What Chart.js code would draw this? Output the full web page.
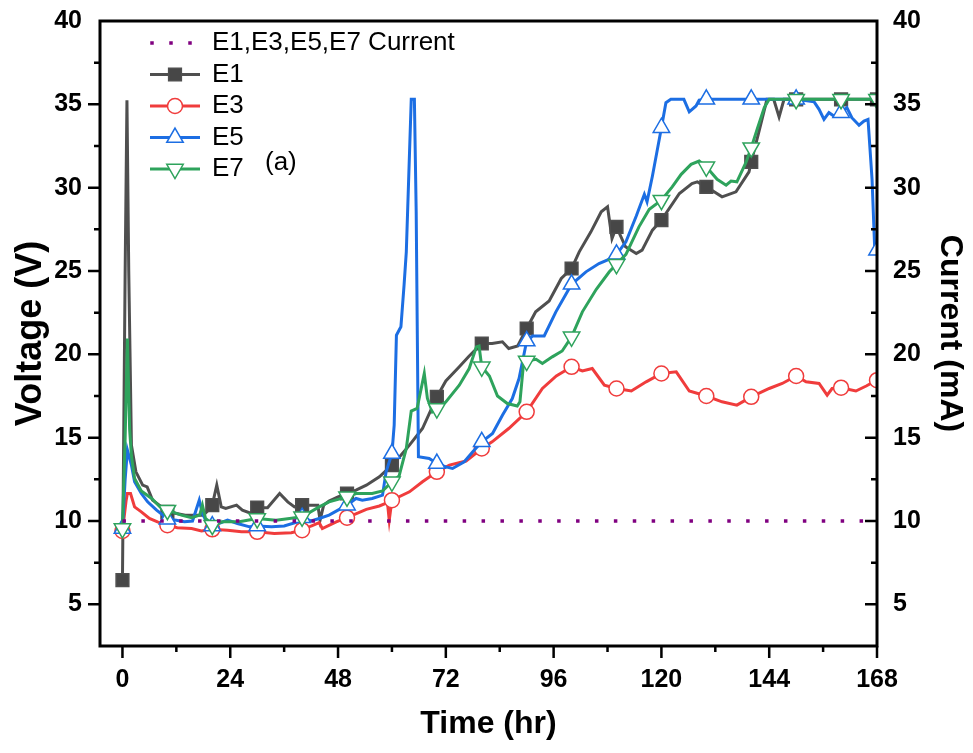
<!DOCTYPE html>
<html>
<head>
<meta charset="utf-8">
<title>Voltage / Current vs Time</title>
<script src="https://cdn.jsdelivr.net/npm/chart.js@4.4.0/dist/chart.umd.min.js"></script>
<style>
  html, body { margin: 0; padding: 0; background: #fff; overflow: hidden; }
</style>
</head>
<body>
<canvas id="voltChart" width="973" height="753"></canvas>
<script>
// tick labels
const timeTicks = [0, 24, 48, 72, 96, 120, 144, 168];
const voltTicks = [5, 10, 15, 20, 25, 30, 35, 40];
const currentTicks = [5, 10, 15, 20, 25, 30, 35, 40];

// E1 voltage (V) vs time (hr)
const e1Time = [0, 0.6, 1.0, 1.4, 2, 3, 4.5, 5.5, 6.7, 8.2, 10, 12, 14, 16, 18, 19.5, 20, 21, 22, 23,
  25.4, 26.7, 28.7, 30, 32.3, 35, 36.8, 38.3, 40, 42, 43.5, 44, 44.8, 46, 48, 50, 52, 54.3, 57.2, 60,
  62, 63.9, 66.8, 70, 72, 75, 77.2, 80, 82.3, 84.6, 86, 88, 90, 92, 95, 97.7, 100, 101.7, 104.3, 106.6,
  108, 109, 110, 112, 114.4, 115.7, 118, 120, 124, 126.8, 128, 130, 133.5, 136.6, 139.5, 140, 141.7, 143.5, 145, 146.2,
  147.3, 150, 160, 168];
const e1Volt = [6.45, 25, 35.25, 25, 14.55, 12.95, 12.15, 12.05, 11.25, 10.95, 10.55, 10.45, 10.35, 10.35, 10.35, 10.75, 10.95, 12.15, 10.85, 10.75,
  10.95, 10.65, 10.45, 10.8, 10.8, 11.65, 11.15, 10.85, 10.95, 10.95, 10.95, 10.05, 10.95, 11.2, 11.45, 11.65, 11.85, 12.15, 12.65, 13.35,
  13.95, 14.55, 15.55, 17.45, 18.4, 19.25, 19.9, 20.65, 20.65, 20.75, 20.35, 20.5, 21.55, 22.55, 23.2, 24.55, 25.15, 26.15, 27.35, 28.55,
  28.85, 26.95, 27.65, 26.45, 26.05, 26.25, 27.45, 28.05, 29.65, 30.25, 30.35, 30.05, 29.45, 29.75, 30.95, 31.55, 33.35, 35.3, 35.3, 34.25,
  35.3, 35.3, 35.3, 35.3];

// E3
const e3Time = [0, 0.8, 1.1, 1.8, 2.7, 4.2, 6, 7.8, 10, 12.2, 15.4, 17.6, 20, 23.4, 26.5, 30, 33.8, 37.6, 40, 42,
  43.8, 44.5, 47.6, 50, 54.3, 57.2, 59, 59.4, 60, 63.9, 66.8, 70, 72.8, 76.5, 80, 82.3, 86, 90, 93.5, 96.6,
  100, 102.4, 104.6, 107.3, 110, 113.3, 116.6, 120, 123.3, 126.2, 130, 133.5, 136.8, 140, 144, 146.9, 150, 152.2, 155.1, 156.9,
  158, 160, 163.3, 165.6, 168];
const e3Volt = [9.4, 11.2, 11.65, 11.65, 10.85, 10.55, 10.15, 9.95, 9.75, 9.6, 9.55, 9.4, 9.5, 9.45, 9.35, 9.35, 9.25, 9.3, 9.45, 9.7,
  9.9, 9.55, 9.95, 10.2, 10.7, 10.9, 11.1, 10.05, 11.25, 11.75, 12.35, 12.95, 13.35, 13.6, 14.35, 14.75, 15.55, 16.55, 17.95, 18.7,
  19.25, 19.0, 19.15, 18.15, 17.95, 17.8, 18.35, 18.85, 18.95, 17.8, 17.5, 17.15, 16.95, 17.45, 17.95, 18.25, 18.7, 18.35, 18.25, 17.55,
  17.95, 18.0, 17.8, 18.1, 18.45];

// E5
const e5Time = [0, 0.6, 1.1, 2, 2.7, 4.2, 5.6, 7.6, 9, 10, 12, 13.8, 15.6, 17.1, 17.8, 18.9, 20, 23.4, 25.6, 28.3,
  30, 33.2, 36, 39, 40, 42, 43.8, 46, 50, 52, 53.4, 55.6, 57.9, 58.7, 60, 60.5, 61, 62, 62.7, 63.2,
  64.3, 65, 65.4, 65.9, 68.3, 70, 72, 73.5, 76.1, 78, 80, 82.4, 84.6, 86.8, 88.3, 90, 91.3, 93.9, 96.5, 100,
  103.2, 106.1, 108.8, 110, 112.1, 114.4, 116.2, 116.8, 118, 120, 121, 122.1, 125, 126.2, 127.7, 128.4, 130, 140, 150, 154,
  155.1, 156.2, 157.3, 158.4, 160, 161.3, 162.4, 164, 165.1, 166, 166.9, 167.5, 168];
const e5Volt = [9.55, 12.5, 14.25, 13.35, 12.35, 11.65, 11.15, 10.65, 10.35, 10.1, 10.05, 9.95, 10.0, 11.25, 10.45, 9.85, 9.7, 10.05, 9.85, 9.65,
  9.7, 9.65, 9.7, 9.95, 10.2, 10.0, 10.15, 10.35, 10.95, 11.35, 11.25, 11.35, 11.55, 12.95, 14.05, 15.75, 21.15, 21.65, 24.15, 26.15,
  35.3, 35.3, 28.55, 13.85, 13.75, 13.45, 13.25, 13.15, 13.55, 14.15, 14.75, 15.25, 16.35, 17.35, 18.55, 20.8, 21.1, 21.1, 22.55, 24.2,
  24.95, 25.45, 25.75, 26.0, 26.75, 28.3, 29.6, 29.15, 30.7, 33.6, 35.1, 35.3, 35.3, 34.55, 34.9, 35.25, 35.3, 35.3, 35.3, 35.15,
  34.7, 34.1, 34.5, 34.3, 34.5, 34.8, 34.2, 33.75, 34.0, 34.1, 30.5, 26.25, 26.25];

// E7
const e7Time = [0, 0.6, 1.1, 1.6, 2, 2.7, 4.2, 6.5, 8.7, 10, 13.1, 15.4, 17.2, 17.8, 18.5, 19.4, 20, 22.3, 26, 30,
  34.2, 37.2, 40, 43.8, 46, 50, 52, 55.6, 57.9, 60, 61.6, 63.2, 64.3, 65.6, 67.2, 67.9, 69, 70, 72, 75,
  77.2, 78.8, 79.4, 80, 81.7, 83.5, 85.7, 87.9, 88.5, 89.3, 90, 92.1, 93.5, 95.7, 97.9, 100, 102.4, 105.5, 108.4, 110,
  112.1, 115, 117.3, 120, 122.4, 124.4, 126.6, 128.4, 130, 132.4, 134.4, 135.5, 136.8, 138.8, 140, 141.3, 142.9, 144, 150, 160,
  168];
const e7Volt = [9.55, 15, 20.95, 15.5, 13.9, 12.55, 11.8, 11.35, 10.75, 10.65, 10.35, 10.2, 10.35, 10.95, 10.15, 9.95, 9.75, 9.95, 9.95, 10.15,
  10.05, 10.15, 10.25, 10.85, 11.15, 11.45, 11.65, 11.65, 11.8, 12.35, 12.7, 14.35, 16.6, 16.75, 18.85, 17.35, 16.55, 16.75, 17.15, 18.15,
  19.15, 20.45, 20.5, 19.25, 18.7, 17.5, 17.05, 16.9, 17.15, 19.45, 19.6, 19.7, 19.45, 19.85, 20.2, 21.05, 22.55, 23.9, 24.95, 25.4,
  26.0, 27.65, 28.7, 29.25, 30.05, 30.8, 31.4, 31.6, 31.25, 30.5, 30.15, 30.4, 30.35, 31.5, 32.4, 33.5, 34.8, 35.3, 35.3, 35.3,
  35.3];

// applied current (mA), same for all electrodes
const currentTime = [0, 168];
const currentVal = [10, 10];

const FONT = '"Liberation Sans", Arial, sans-serif';
const PURPLE = '#800080';

function toPoints(xs, ys) {
  return xs.map((x, i) => ({ x: x, y: ys[i] }));
}

// symbols only every 10 hr and on the last point
function markerRadius(r) {
  return function(ctx) {
    const p = ctx.raw;
    if (!p) return 0;
    return (p.x % 10 === 0 || p.x === 168) ? r : 0;
  };
}

const series = [
  { label: 'E1', t: e1Time, v: e1Volt, color: '#4f4f4f', fill: '#474747', style: 'rect', rot: 0, r: 9 },
  { label: 'E3', t: e3Time, v: e3Volt, color: '#f03c3c', fill: '#ffffff', style: 'circle', rot: 0, r: 7.5 },
  { label: 'E5', t: e5Time, v: e5Volt, color: '#1c6ee3', fill: '#ffffff', style: 'triangle', rot: 0, r: 9.5 },
  { label: 'E7', t: e7Time, v: e7Volt, color: '#2ea35c', fill: '#ffffff', style: 'triangle', rot: 180, r: 9.5 }
];

const datasets = [{
  label: 'E1,E3,E5,E7 Current',
  data: toPoints(currentTime, currentVal),
  yAxisID: 'y2',
  borderColor: PURPLE,
  borderWidth: 3.5,
  borderDash: [3.5, 15.4],
  pointRadius: 0,
  order: 0
}];
series.forEach((s, i) => {
  datasets.push({
    label: s.label,
    data: toPoints(s.t, s.v),
    yAxisID: 'y',
    borderColor: s.color,
    borderWidth: 3,
    pointStyle: s.style,
    rotation: s.rot,
    pointRadius: markerRadius(s.r),
    pointBackgroundColor: s.fill,
    pointBorderColor: s.color,
    pointBorderWidth: 1.5,
    tension: 0,
    order: 4 - i
  });
});

// frame, ticks, legend and panel label
const decorPlugin = {
  id: 'decor',
  afterDatasetsDraw(chart) {
    const { ctx, chartArea: a, scales } = chart;
    ctx.save();
    ctx.strokeStyle = '#000';
    ctx.lineWidth = 3;
    ctx.strokeRect(a.left, a.top, a.right - a.left, a.bottom - a.top);

    ctx.lineWidth = 2.5;
    ctx.beginPath();
    for (let t = 0; t <= 168; t += 12) {
      const x = scales.x.getPixelForValue(t);
      const len = t % 24 === 0 ? 12 : 6;
      ctx.moveTo(x, a.bottom);
      ctx.lineTo(x, a.bottom + len);
    }
    for (let v = 5; v <= 37.5; v += 2.5) {
      const y = scales.y.getPixelForValue(v);
      const len = v % 5 === 0 ? 12 : 6;
      ctx.moveTo(a.left, y);
      ctx.lineTo(a.left - len, y);
      ctx.moveTo(a.right, y);
      ctx.lineTo(a.right - len, y);
    }
    ctx.stroke();

    // legend
    ctx.font = '26px ' + FONT;
    ctx.textBaseline = 'middle';
    ctx.textAlign = 'left';
    const rowY = i => 43 + 31.5 * i;
    ctx.fillStyle = PURPLE;
    [152, 171, 190].forEach(x => ctx.fillRect(x - 1.75, rowY(0) - 1.75, 3.5, 3.5));
    ctx.fillStyle = '#000';
    ctx.fillText('E1,E3,E5,E7 Current', 212, rowY(0));
    series.forEach((s, i) => {
      const y = rowY(i + 1);
      ctx.strokeStyle = s.color;
      ctx.lineWidth = 3;
      ctx.beginPath();
      ctx.moveTo(150, y);
      ctx.lineTo(200, y);
      ctx.stroke();
      ctx.fillStyle = s.fill;
      ctx.lineWidth = 1.5;
      Chart.helpers.drawPoint(ctx, { pointStyle: s.style, rotation: s.rot, radius: s.r, borderWidth: 1.5 }, 175, y);
      ctx.fillStyle = '#000';
      ctx.fillText(s.label, 212, y);
    });
    ctx.fillText('(a)', 265, 163);
    ctx.restore();
  }
};

const tickFont = { family: FONT, size: 25, weight: 'bold' };
const titleFont = { family: FONT, size: 32, weight: 'bold' };

// vertical axes: fixed width, no extra top/bottom room for the end labels
function fitVertical(width) {
  return function(s) {
    s.width = width;
    s.paddingTop = 0;
    s.paddingBottom = 0;
  };
}

new Chart(document.getElementById('voltChart').getContext('2d'), {
  type: 'line',
  data: { datasets: datasets },
  plugins: [decorPlugin],
  options: {
    responsive: false,
    animation: false,
    layout: { padding: { top: 21, left: 0, right: 0, bottom: 0 } },
    plugins: { legend: { display: false }, tooltip: { enabled: false } },
    scales: {
      x: {
        type: 'linear',
        min: -5,
        max: 168,
        grid: { display: false, drawTicks: false },
        border: { display: false },
        afterBuildTicks: s => { s.ticks = timeTicks.map(v => ({ value: v })); },
        afterFit: s => { s.height = 107; },
        ticks: { color: '#000', font: tickFont, padding: 19, maxRotation: 0, autoSkip: false },
        title: { display: true, text: 'Time (hr)', color: '#000', font: titleFont, padding: { top: 0, bottom: 10 } }
      },
      y: {
        type: 'linear',
        position: 'left',
        min: 2.5,
        max: 40,
        grid: { display: false, drawTicks: false },
        border: { display: false },
        afterBuildTicks: s => { s.ticks = voltTicks.map(v => ({ value: v })); },
        afterFit: fitVertical(100),
        ticks: { color: '#000', font: tickFont, padding: 18 },
        title: { display: true, text: 'Voltage (V)', color: '#000', font: { family: FONT, size: 36, weight: 'bold' }, padding: { top: 9, bottom: 0 } }
      },
      y2: {
        type: 'linear',
        position: 'right',
        min: 2.5,
        max: 40,
        grid: { display: false, drawTicks: false },
        border: { display: false },
        afterBuildTicks: s => { s.ticks = currentTicks.map(v => ({ value: v })); },
        afterFit: fitVertical(96),
        ticks: { color: '#000', font: tickFont, padding: 16 },
        title: { display: true, text: 'Current (mA)', color: '#000', font: titleFont, padding: { top: 4, bottom: 0 } }
      }
    }
  }
});
</script>
</body>
</html>
